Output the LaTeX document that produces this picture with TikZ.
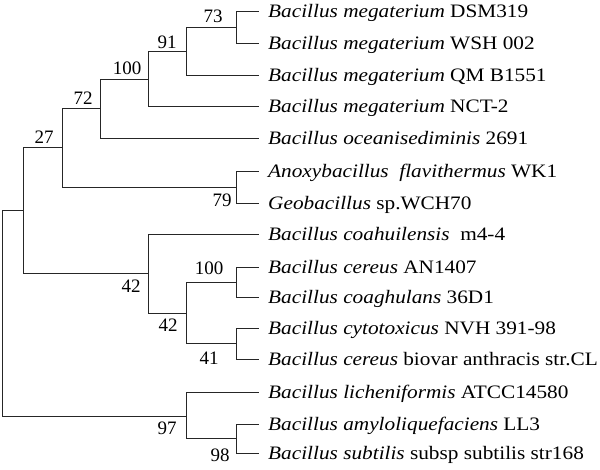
\documentclass[tikz,border=0pt]{standalone}
\usepackage{fontspec}
\setmainfont{Liberation Serif}
\newfontfamily\labfont[FakeStretch=1.12]{Liberation Serif}
\begin{document}
\begin{tikzpicture}[x=1pt,y=-1pt,
  branch/.style={draw=black!85,line width=0.9pt},
  leaflab/.style={anchor=west,inner xsep=9pt,inner ysep=0pt,text height=12.7pt,text depth=0pt,font=\labfont\fontsize{19}{22}\selectfont},
  boot/.style={inner sep=0pt,text height=12.5pt,text depth=0pt,font=\fontsize{19}{22}\selectfont}]
\useasboundingbox (0,0) rectangle (600,469);
% leaves
\node[leaflab] (L1) at (259,11) {\textit{Bacillus megaterium} DSM319};
\node[leaflab] (L2) at (259,43) {\textit{Bacillus megaterium} WSH 002};
\node[leaflab] (L3) at (259,75) {\textit{Bacillus megaterium} QM B1551};
\node[leaflab] (L4) at (259,106) {\textit{Bacillus megaterium} NCT-2};
\node[leaflab] (L5) at (259,138) {\textit{Bacillus oceanisediminis} 2691};
\node[leaflab] (L6) at (259,171) {\textit{Anoxybacillus\ \ flavithermus} WK1};
\node[leaflab] (L7) at (259,203) {\textit{Geobacillus} sp.WCH70};
\node[leaflab] (L8) at (259,234) {\textit{Bacillus coahuilensis}\ \ m4-4};
\node[leaflab] (L9) at (259,267) {\textit{Bacillus cereus} AN1407};
\node[leaflab] (L10) at (259,297) {\textit{Bacillus coaghulans} 36D1};
\node[leaflab] (L11) at (259,328) {\textit{Bacillus cytotoxicus} NVH 391-98};
\node[leaflab] (L12) at (259,359) {\textit{Bacillus cereus} biovar anthracis str.CL};
\node[leaflab] (L13) at (259,392) {\textit{Bacillus licheniformis} ATCC14580};
\node[leaflab] (L14) at (259,424) {\textit{Bacillus amyloliquefaciens} LL3};
\node[leaflab] (L15) at (259,453) {\textit{Bacillus subtilis} subsp subtilis str168};
% internal nodes
\coordinate (n73) at (236,27);
\coordinate (n91) at (186,51);
\coordinate (n100a) at (148,79);
\coordinate (n72) at (100,108);
\coordinate (n79) at (236,187);
\coordinate (n27) at (62,147);
\coordinate (n100b) at (236,282);
\coordinate (n41) at (236,343.5);
\coordinate (n42b) at (186,313);
\coordinate (n42a) at (148,273);
\coordinate (nA) at (23,210);
\coordinate (n98) at (236,438.5);
\coordinate (n97) at (186,416);
\coordinate (root) at (2,313);
% branches
\draw[branch] (n73) |- (L1.west);
\draw[branch] (n73) |- (L2.west);
\draw[branch] (n91) |- (n73);
\draw[branch] (n91) |- (L3.west);
\draw[branch] (n100a) |- (n91);
\draw[branch] (n100a) |- (L4.west);
\draw[branch] (n72) |- (n100a);
\draw[branch] (n72) |- (L5.west);
\draw[branch] (n79) |- (L6.west);
\draw[branch] (n79) |- (L7.west);
\draw[branch] (n27) |- (n72);
\draw[branch] (n27) |- (n79);
\draw[branch] (n100b) |- (L9.west);
\draw[branch] (n100b) |- (L10.west);
\draw[branch] (n41) |- (L11.west);
\draw[branch] (n41) |- (L12.west);
\draw[branch] (n42b) |- (n100b);
\draw[branch] (n42b) |- (n41);
\draw[branch] (n42a) |- (L8.west);
\draw[branch] (n42a) |- (n42b);
\draw[branch] (nA) |- (n27);
\draw[branch] (nA) |- (n42a);
\draw[branch] (n98) |- (L14.west);
\draw[branch] (n98) |- (L15.west);
\draw[branch] (n97) |- (L13.west);
\draw[branch] (n97) |- (n98);
\draw[branch] (root) |- (nA);
\draw[branch] (root) |- (n97);
% bootstrap values
\node[boot] (b73) at (213,16) {73};
\node[boot] (b91) at (167,42) {91};
\node[boot] (b100a) at (127,68) {100};
\node[boot] (b72) at (83,98) {72};
\node[boot] (b27) at (44,137) {27};
\node[boot] (b79) at (222,200) {79};
\node[boot] (b42a) at (131,286) {42};
\node[boot] (b100b) at (209,268) {100};
\node[boot] (b42b) at (168,325) {42};
\node[boot] (b41) at (209,358) {41};
\node[boot] (b97) at (167,428) {97};
\node[boot] (b98) at (220,455) {98};
\end{tikzpicture}
\end{document}
